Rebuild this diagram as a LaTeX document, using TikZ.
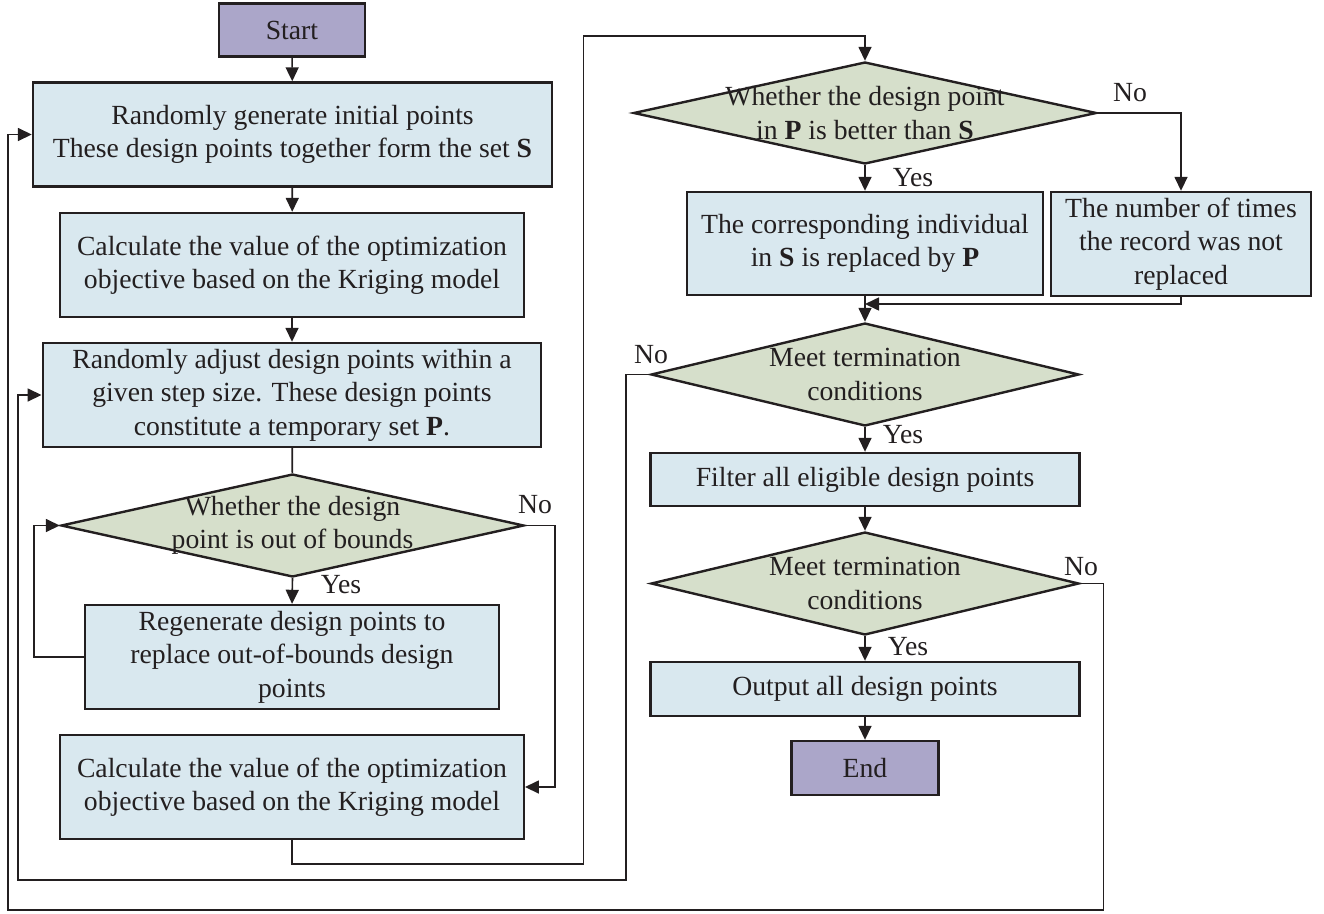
\documentclass[tikz,border=0pt]{standalone}
\usepackage{fontspec}
\setmainfont{Liberation Serif}
\usetikzlibrary{shapes.geometric,arrows.meta}
\definecolor{termfill}{RGB}{171,166,201}
\definecolor{procfill}{RGB}{217,232,239}
\definecolor{decfill}{RGB}{214,223,203}
\definecolor{ink}{RGB}{35,31,32}
\begin{document}
\begin{tikzpicture}[x=1pt,y=-1pt,
  every node/.style={font=\fontsize{27.7}{33.5}\selectfont, text=ink},
  terminal/.style={draw=ink, line width=2.4pt, fill=termfill, inner sep=0pt,
    minimum width=146pt, minimum height=53pt},
  process/.style={draw=ink, line width=2.4pt, fill=procfill, inner sep=0pt,
    align=center, minimum height=104pt},
  decision/.style={draw=ink, line width=2.4pt, fill=decfill, shape=diamond,
    inner sep=0pt},
  dtext/.style={align=center, inner sep=0pt},
  tag/.style={inner sep=0pt},
  link/.style={draw=ink, line width=1.6pt},
  flow/.style={link, -{Triangle[length=14pt,width=13pt]}},
]
\useasboundingbox (0,0) rectangle (1324,913);

% ---- left column: initialisation and local adjustment
\node[terminal] (start) at (292,30) {Start};
\node[process, minimum width=519pt] (gen) at (292.5,134.5)
  {Randomly generate initial points\\These design points together form the set \textbf{S}};
\node[process, minimum width=463.5pt] (eval1) at (292,265)
  {Calculate the value of the optimization\\objective based on the Kriging model};
\node[process, minimum width=498.5pt] (adjust) at (292,395)
  {Randomly adjust design points within a\\given step size. These design points\\constitute a temporary set \textbf{P}.};
\node[decision, minimum width=463pt, minimum height=103pt] (bounds) at (292.5,525.5) {};
\node[dtext] (boundsT) at (bounds) {Whether the design\\point is out of bounds};
\node[process, minimum width=414pt] (regen) at (292,657)
  {Regenerate design points to\\replace out-of-bounds design\\points};
\node[process, minimum width=463.5pt] (eval2) at (292,787)
  {Calculate the value of the optimization\\objective based on the Kriging model};

% ---- right column: selection and termination
\node[decision, minimum width=463pt, minimum height=102pt] (better) at (865,113) {};
\node[dtext] (betterT) at (better) {Whether the design point\\in \textbf{P} is better than \textbf{S}};
\node[process, minimum width=356pt, minimum height=103pt] (replace) at (865,243.5)
  {The corresponding individual\\in \textbf{S} is replaced by \textbf{P}};
\node[process, minimum width=260pt] (count) at (1181,244)
  {The number of times\\the record was not\\replaced};
\node[decision, minimum width=428pt, minimum height=103pt] (term1) at (865,374.5) {};
\node[dtext] (term1T) at (term1) {Meet termination\\conditions};
\node[process, minimum width=429pt, minimum height=53pt] (filter) at (865,479.5)
  {Filter all eligible design points};
\node[decision, minimum width=428pt, minimum height=103pt] (term2) at (865,583.5) {};
\node[dtext] (term2T) at (term2) {Meet termination\\conditions};
\node[process, minimum width=429pt, minimum height=54pt] (output) at (865,689)
  {Output all design points};
\node[terminal, minimum width=147pt, minimum height=54pt] (end) at (865,768) {End};

% ---- branch labels
\node[tag] (yes1) at (341,585) {Yes};
\node[tag] (no1) at (535,505) {No};
\node[tag] (yes2) at (913,178) {Yes};
\node[tag] (no2) at (1130,93) {No};
\node[tag] (yes3) at (903,435) {Yes};
\node[tag] (no3) at (651,355) {No};
\node[tag] (yes4) at (908,647) {Yes};
\node[tag] (no4) at (1081,567) {No};

% ---- routing rails for the feedback lines
\coordinate (railNo1) at (555,0);
\coordinate (railLoop) at (34,0);
\coordinate (railAdj) at (18,0);
\coordinate (railGen) at (8,0);
\coordinate (railMid) at (583.5,0);
\coordinate (railTerm1) at (626,0);
\coordinate (railTerm2) at (1103.5,0);
\coordinate (levelTop) at (0,36);
\coordinate (levelA) at (0,864);
\coordinate (levelB) at (0,880);
\coordinate (levelC) at (0,910);
\coordinate (levelMerge) at (0,304);

% ---- connectors, left column
\draw[flow] (start) -- (gen);
\draw[flow] (gen) -- (eval1);
\draw[flow] (eval1) -- (adjust);
\draw[link] (adjust) -- (bounds);
\draw[flow] (bounds.south) -- (regen.north);
\draw[flow] (bounds.east) -- (bounds.east -| railNo1) |- (eval2.east);
\draw[flow] (regen.west) -- (regen.west -| railLoop) |- (bounds.west);
\draw[flow] (eval2.south) -- (eval2.south |- levelA) -| (railMid |- levelTop)
  -| (better.north);

% ---- connectors, right column
\draw[flow] (better.south) -- (replace.north);
\draw[flow] (better.east) -| (count.north);
\draw[flow] (count.south) -- (count.south |- levelMerge) -- (replace.south |- levelMerge);
\draw[flow] (replace.south) -- (term1.north);
\draw[flow] (term1.south) -- (filter.north);
\draw[flow] (filter) -- (term2);
\draw[flow] (term2.south) -- (output.north);
\draw[flow] (output) -- (end);

% ---- feedback loops
\draw[flow] (term1.west) -- (term1.west -| railTerm1) -- (railTerm1 |- levelB)
  -- (railAdj |- levelB) |- (adjust.west);
\draw[flow] (term2.east) -- (term2.east -| railTerm2) -- (railTerm2 |- levelC)
  -- (railGen |- levelC) |- (gen.west);
\end{tikzpicture}
\end{document}
